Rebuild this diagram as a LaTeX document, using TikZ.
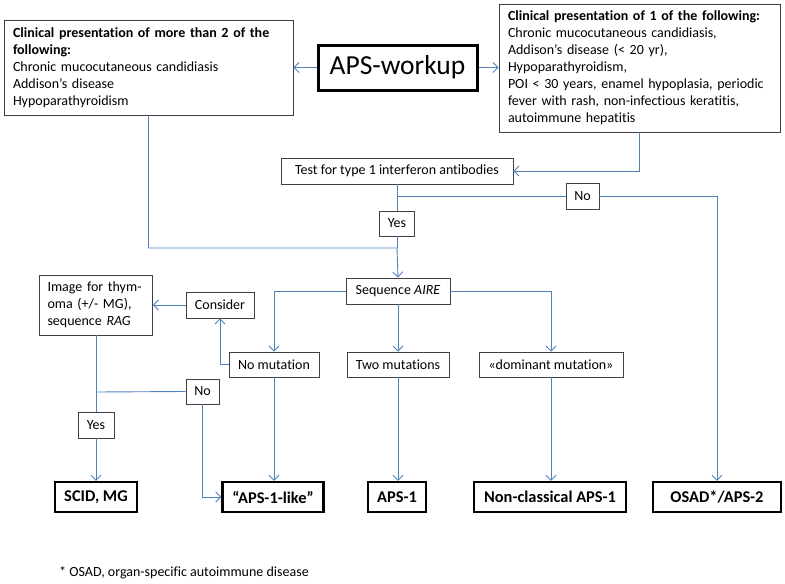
\documentclass[tikz,border=0pt]{standalone}
\usepackage{fontspec}
\setmainfont{Carlito}[Ligatures=CommonOff]
\usetikzlibrary{arrows.meta}
\definecolor{conn}{HTML}{4F81BD}
\definecolor{boxline}{HTML}{404040}
\hyphenpenalty=10000
\begin{document}
\begin{tikzpicture}[x=1pt,y=-1pt,
  txt/.style={font=\fontsize{14}{17}\selectfont},
  box/.style={draw=boxline, line width=0.9pt, inner sep=0pt, txt, align=center},
  tbox/.style={draw=boxline, line width=0.9pt, inner xsep=9pt, inner ysep=0pt, txt, align=left},
  endbox/.style={draw=black, line width=2.4pt, inner sep=0pt, font=\fontsize{16.4}{18}\selectfont\bfseries, minimum height=30pt},
  conn/.style={draw=conn, line width=0.9pt},
  arr/.style={conn, -{Straight Barb[length=5pt,width=10pt,line width=0.9pt]}}
]
\useasboundingbox (0,0) rectangle (785,584);

% top row
\node[draw=black, line width=3pt, inner sep=0pt, minimum width=159pt, minimum height=45pt,
      font=\fontsize{27.5}{30}\selectfont] (aps) at (397.5,67.5) {APS-workup};
\node[tbox, text width=271pt, minimum height=95pt] (boxA) at (148.5,67.5)
  {\textbf{Clinical presentation of more than 2 of the}\\
   \textbf{following:}\\
   Chronic mucocutaneous candidiasis\\
   Addison’s disease\\
   Hypoparathyroidism};
\node[tbox, text width=263pt, minimum height=128pt] (boxB) at (639.5,68)
  {\textbf{Clinical presentation of 1 of the following:}\\
   Chronic mucocutaneous candidiasis,\\
   Addison’s disease (< 20 yr),\\
   Hypoparathyroidism,\\
   POI < 30 years, enamel hypoplasia, periodic\\
   fever with rash, non-infectious keratitis,\\
   autoimmune hepatitis};

% middle
\node[box, minimum width=232pt, minimum height=26pt] (test) at (397,171) {Test for type 1 interferon antibodies};
\node[box, minimum width=35pt, minimum height=25pt] (yes) at (397,223.5) {Yes};
\node[box, minimum width=33pt, minimum height=26pt] (no) at (582.5,196) {No};
\node[box, minimum width=104pt, minimum height=26pt] (seq) at (398,291) {Sequence \textit{AIRE}};
\node[box, minimum width=68pt, minimum height=26pt] (consider) at (220,305) {Consider};
\node[tbox, text width=97pt, inner xsep=8pt, minimum height=60pt] (image) at (96,305)
  {Image for thym-\\oma (+/- MG),\\sequence \textit{RAG}};
\node[box, minimum width=90pt, minimum height=25pt] (nomut) at (274,364.5) {No mutation};
\node[box, minimum width=102pt, minimum height=25pt] (two) at (398,364.5) {Two mutations};
\node[box, minimum width=144pt, minimum height=25pt] (dom) at (551,364.5) {«dominant mutation»};
\node[box, minimum width=33pt, minimum height=25pt] (noL) at (202.5,391.5) {No};
\node[box, minimum width=36pt, minimum height=26pt] (yesL) at (96,425) {Yes};

% bottom row
\node[endbox, minimum width=82pt] (scid) at (96,497) {SCID, MG};
\node[endbox, minimum width=101pt] (apslike) at (273,497) {“APS-1-like”};
\node[endbox, minimum width=58pt] (aps1) at (397,497) {APS-1};
\node[endbox, minimum width=152pt] (noncl) at (550,497) {Non-classical APS-1};
\node[endbox, minimum width=128pt] (osad) at (717,497) {OSAD*/APS-2};

\node[txt, anchor=west, inner sep=0pt] (foot) at (59,573) {* OSAD, organ-specific autoimmune disease};

\coordinate (j) at (397,248);
\coordinate (b1) at (397,196);
\coordinate (b2) at (96,392);

% connectors
\draw[arr] (aps.west) -- (boxA.east |- aps.west);
\draw[arr] (aps.east) -- (boxB.west |- aps.east);
\draw[arr] (boxB.south -| 639,0) |- (test.east);
\draw[conn] (test.south) -- (yes.north);
\draw[conn] (yes.south) -- (j);
\draw[arr] (boxA.south) |- (j) -- (seq.north);
\draw[conn] (b1) -- (no.west);
\draw[arr] (no.east) -| (osad.north);
\draw[arr] (seq.west) -| (nomut.north);
\draw[arr] (seq.east) -| (dom.north);
\draw[arr] (seq.south) -- (seq.south |- two.north);
\draw[arr] (nomut.west) -| (consider.south);
\draw[arr] (consider.west) -- (image.east |- consider.west);
\draw[conn] (image.south) -- (yesL.north);
\draw[conn] (b2) -- (noL.west);
\draw[arr] (noL.south) |- (apslike.west);
\draw[arr] (yesL.south) -- (scid.north);
\draw[arr] (nomut.south) -- (nomut.south |- apslike.north);
\draw[arr] (two.south) -- (two.south |- aps1.north);
\draw[arr] (dom.south) -- (dom.south |- noncl.north);
\end{tikzpicture}
\end{document}
